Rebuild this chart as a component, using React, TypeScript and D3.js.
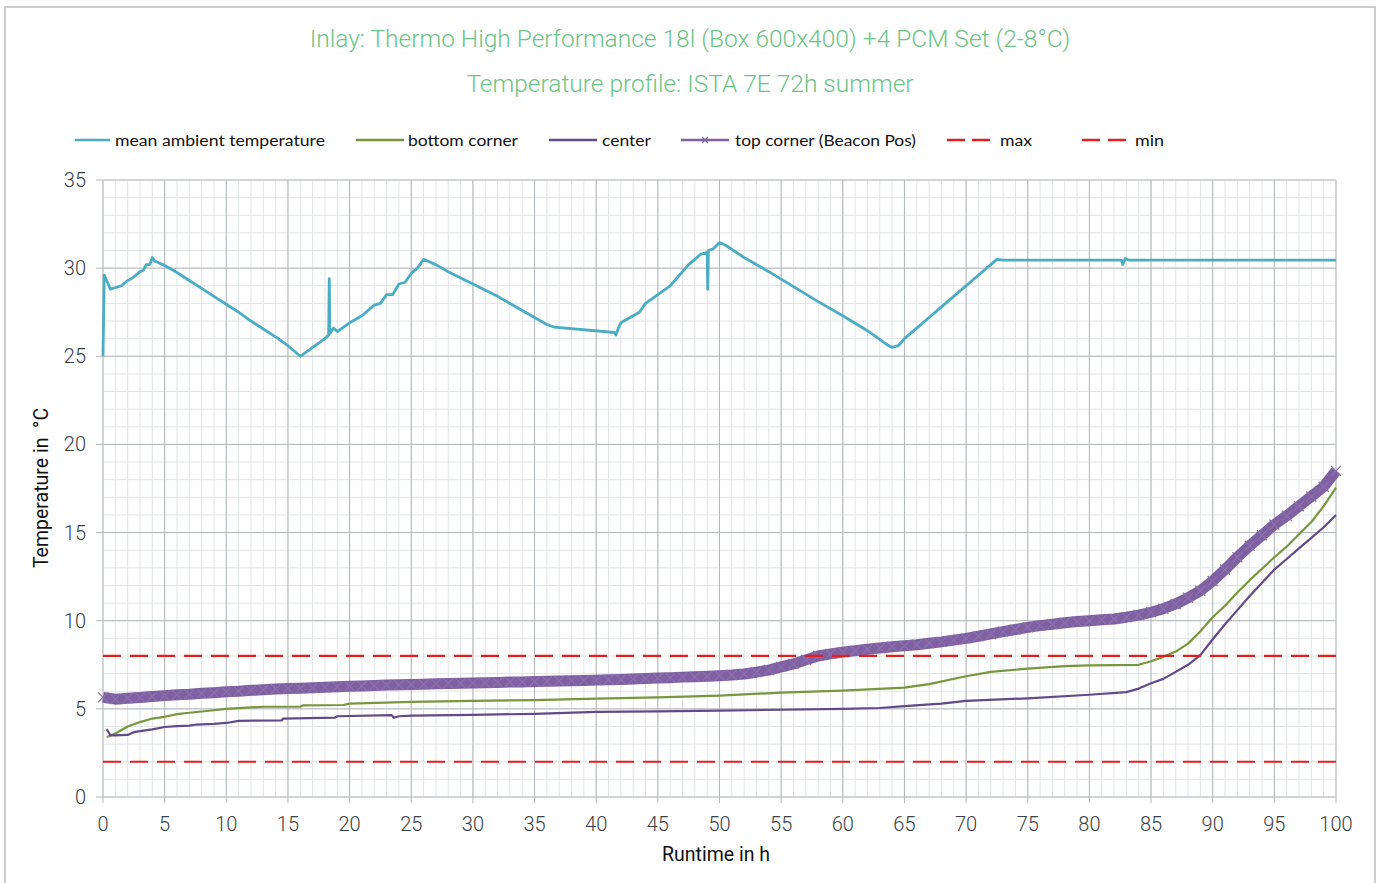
import React from "react";
import * as d3 from "d3";

const W = 1384;
const H = 883;
const PLOT = { left: 103, right: 1336, top: 180, bottom: 797 };

const titleLines = [
  "Inlay: Thermo High Performance 18l (Box 600x400) +4 PCM Set (2-8°C)",
  "Temperature profile: ISTA 7E 72h summer",
];
const xTicks = [0, 5, 10, 15, 20, 25, 30, 35, 40, 45, 50, 55, 60, 65, 70, 75, 80, 85, 90, 95, 100];
const yTicks = [0, 5, 10, 15, 20, 25, 30, 35];
const maxLimit = 8;
const minLimit = 2;

// mean ambient temperature
const ambientHours = [
  0, 0.1, 0.3, 0.6, 1, 1.5, 2, 2.3, 2.5, 3, 3.3, 3.5, 3.8, 4.0, 4.2, 5, 6, 7, 8, 9, 10, 11, 12, 13, 14, 15, 16,
  17, 18, 18.3, 18.35, 18.4, 18.7, 19, 20, 21, 22, 22.5, 23, 23.5, 24, 24.5, 25, 25.5, 26, 27, 28, 30, 32, 34,
  35, 36, 36.6, 41.5, 41.6, 41.8, 42, 43, 43.5, 44, 45, 46, 46.5, 47, 47.5, 48, 48.5, 49, 49.05, 49.1, 49.5, 50,
  50.5, 52, 54, 56, 58, 60, 62, 63.5, 64, 64.5, 65, 66, 67, 68, 69, 70, 71, 72, 72.5, 73, 80, 82.6, 82.7, 82.9,
  83.2, 90, 100,
];
const ambientTemp = [
  25.0, 29.6, 29.3, 28.8, 28.9, 29.0, 29.3, 29.4, 29.5, 29.8, 29.9, 30.2, 30.2, 30.6, 30.4, 30.15, 29.75, 29.3,
  28.85, 28.4, 27.95, 27.5, 27.0, 26.55, 26.1, 25.6, 25.0, 25.5, 26.0, 26.2, 29.4, 26.3, 26.6, 26.4, 26.9, 27.3,
  27.9, 28.0, 28.5, 28.5, 29.1, 29.2, 29.7, 30.0, 30.5, 30.2, 29.8, 29.1, 28.4, 27.6, 27.2, 26.8, 26.65, 26.35,
  26.2, 26.6, 26.9, 27.3, 27.5, 28.0, 28.5, 29.0, 29.4, 29.8, 30.2, 30.5, 30.8, 30.9, 28.8, 31.0, 31.1, 31.45,
  31.3, 30.6, 29.8, 28.95, 28.1, 27.3, 26.45, 25.7, 25.5, 25.6, 26.0, 26.6, 27.2, 27.8, 28.4, 29.0, 29.6, 30.2,
  30.5, 30.45, 30.45, 30.45, 30.2, 30.55, 30.45, 30.45, 30.45,
];

// bottom corner
const bottomHours = [
  0.3, 1, 2, 3, 4, 5, 6, 7, 8, 9, 10, 12, 13, 16, 16.2, 19.5, 20, 25, 30, 35, 40, 45, 50, 55, 60, 65, 67, 70,
  72, 75, 78, 80, 84, 85, 86, 87, 88, 89, 90, 91, 92, 93, 94, 95, 96, 97, 98, 99, 100,
];
const bottomTemp = [
  3.4, 3.6, 4.0, 4.25, 4.45, 4.55, 4.7, 4.78, 4.85, 4.92, 5.0, 5.08, 5.12, 5.12, 5.2, 5.22, 5.3, 5.4, 5.45,
  5.5, 5.58, 5.65, 5.75, 5.92, 6.03, 6.2, 6.4, 6.85, 7.1, 7.28, 7.42, 7.47, 7.5, 7.7, 7.95, 8.25, 8.7, 9.4,
  10.2, 10.85, 11.6, 12.3, 12.95, 13.6, 14.2, 14.9, 15.6, 16.5, 17.55,
];

// center
const centerHours = [
  0.3, 0.6, 1, 2, 2.5, 3, 4, 5, 6, 7, 7.5, 9, 10, 11, 14.5, 14.6, 18.8, 19, 23.4, 23.6, 24, 25, 30, 35, 40,
  45, 50, 55, 60, 63, 65, 68, 70, 75, 80, 83, 84, 85, 86, 87, 88, 89, 90, 91, 92, 93, 94, 95, 96, 97, 98, 99,
  100,
];
const centerTemp = [
  3.85, 3.5, 3.5, 3.52, 3.68, 3.74, 3.84, 3.97, 4.02, 4.05, 4.1, 4.15, 4.2, 4.32, 4.34, 4.45, 4.5, 4.58, 4.65,
  4.5, 4.58, 4.62, 4.66, 4.72, 4.83, 4.86, 4.9, 4.95, 5.0, 5.05, 5.15, 5.3, 5.45, 5.6, 5.8, 5.95, 6.15, 6.45,
  6.7, 7.1, 7.5, 8.05, 8.95, 9.8, 10.6, 11.4, 12.15, 12.9, 13.5, 14.1, 14.7, 15.3, 16.0,
];

// top corner (Beacon Pos)
const topHours = d3.range(0, 101);
const topTemp = [
  5.65, 5.55, 5.6, 5.65, 5.7, 5.75, 5.8, 5.83, 5.88, 5.92, 5.97, 6.0, 6.05, 6.08, 6.12, 6.15, 6.17, 6.2, 6.22,
  6.25, 6.28, 6.3, 6.32, 6.35, 6.37, 6.38, 6.4, 6.42, 6.44, 6.45, 6.47, 6.48, 6.5, 6.52, 6.53, 6.55, 6.57, 6.58,
  6.6, 6.61, 6.63, 6.65, 6.67, 6.7, 6.72, 6.75, 6.77, 6.8, 6.82, 6.85, 6.88, 6.92, 6.98, 7.08, 7.2, 7.38, 7.55,
  7.78, 8.0, 8.12, 8.22, 8.3, 8.38, 8.45, 8.52, 8.58, 8.64, 8.72, 8.8, 8.9, 9.0, 9.12, 9.25, 9.38, 9.5, 9.62,
  9.72, 9.8, 9.88, 9.95, 10.0, 10.05, 10.1, 10.2, 10.32, 10.48, 10.68, 10.95, 11.3, 11.7, 12.25, 12.9, 13.6,
  14.25, 14.85, 15.45, 15.95, 16.5, 17.05, 17.6, 18.5,
];

const legendLabels = [
  "mean ambient temperature",
  "bottom corner",
  "center",
  "top corner (Beacon Pos)",
  "max",
  "min",
];

const COLORS = {
  ambient: "#4bacc6",
  bottom: "#77973d",
  center: "#604a8b",
  top: "#7f60a2",
  topMark: "#8c70ae",
  limit: "#e02020",
  title: "#6cc486",
  gridMajor: "#b3b8bc",
  gridMinor: "#e1e4e6",
  tickText: "#3a4046",
};

const x = d3.scaleLinear().domain([0, 100]).range([PLOT.left, PLOT.right]);
const y = d3.scaleLinear().domain([0, 35]).range([PLOT.bottom, PLOT.top]);

function linePath(hs: number[], vs: number[]) {
  const gen = d3
    .line<number>()
    .x((_, i) => x(hs[i]))
    .y((v) => y(v));
  return gen(vs) || "";
}

export default function App() {
  const minorX = d3.range(0, 101, 1);
  const minorY = d3.range(0, 36, 1);
  const labelFont = "Roboto, 'DejaVu Sans', sans-serif";
  const legendFont = "Lato, 'Open Sans', sans-serif";

  const legendItems = [
    { x1: 75, x2: 110, tx: 115, color: COLORS.ambient, dash: "", marker: false, w: 2.5 },
    { x1: 356, x2: 404, tx: 408, color: COLORS.bottom, dash: "", marker: false, w: 2.5 },
    { x1: 549, x2: 597, tx: 602, color: COLORS.center, dash: "", marker: false, w: 2.5 },
    { x1: 681, x2: 729, tx: 735, color: COLORS.top, dash: "", marker: true, w: 2.5 },
    { x1: 947, x2: 990, tx: 1000, color: COLORS.limit, dash: "18,7", marker: false, w: 2.5 },
    { x1: 1082, x2: 1126, tx: 1135, color: COLORS.limit, dash: "18,8", marker: false, w: 2.5 },
  ];
  const legendWidths = [210, 110, 49, 181, 32, 29];

  return (
    <svg
      width={W}
      height={H}
      style={{ position: "absolute", left: 0, top: 0, background: "#ffffff" }}
      xmlns="http://www.w3.org/2000/svg"
    >
      <rect x={0} y={0} width={W} height={H} fill="#ffffff" />
      <rect x={5} y={7} width={1370} height={H + 20} fill="none" stroke="#bdbdbd" strokeWidth={1.5} />

      {/* titles */}
      {titleLines.map((t, i) => (
        <text
          key={t}
          x={690}
          y={47 + i * 45}
          textAnchor="middle"
          fontFamily={labelFont}
          fontWeight={300}
          fontSize={24.5}
          fill={COLORS.title}
        >
          {t}
        </text>
      ))}

      {/* legend */}
      {legendItems.map((it, i) => (
        <g key={i}>
          <line
            x1={it.x1}
            x2={it.x2}
            y1={140}
            y2={140}
            stroke={it.color}
            strokeWidth={it.w}
            strokeDasharray={it.dash || undefined}
          />
          {it.marker && (
            <path
              d={`M${(it.x1 + it.x2) / 2 - 3},137 L${(it.x1 + it.x2) / 2 + 3},143 M${(it.x1 + it.x2) / 2 - 3},143 L${
                (it.x1 + it.x2) / 2 + 3
              },137`}
              stroke={it.color}
              strokeWidth={1.3}
            />
          )}
          <text
            x={it.tx}
            y={145.5}
            fontFamily={legendFont}
            fontSize={15.5}
            fill="#111"
            textLength={legendWidths[i]}
            lengthAdjust="spacingAndGlyphs"
          >
            {legendLabels[i]}
          </text>
        </g>
      ))}

      {/* grid minor */}
      {minorX.map((v) => (
        <line key={"mx" + v} x1={x(v)} x2={x(v)} y1={PLOT.top} y2={PLOT.bottom} stroke={COLORS.gridMinor} strokeWidth={1} />
      ))}
      {minorY.map((v) => (
        <line key={"my" + v} x1={PLOT.left} x2={PLOT.right} y1={y(v)} y2={y(v)} stroke={COLORS.gridMinor} strokeWidth={1} />
      ))}
      {/* grid major */}
      {xTicks.map((v) => (
        <line key={"Mx" + v} x1={x(v)} x2={x(v)} y1={PLOT.top} y2={PLOT.bottom} stroke={COLORS.gridMajor} strokeWidth={1} />
      ))}
      {yTicks.map((v) => (
        <line key={"My" + v} x1={PLOT.left} x2={PLOT.right} y1={y(v)} y2={y(v)} stroke={COLORS.gridMajor} strokeWidth={1} />
      ))}

      {/* axes ticks */}
      {yTicks.map((v) => (
        <g key={"yt" + v}>
          <line x1={PLOT.left - 7} x2={PLOT.left} y1={y(v)} y2={y(v)} stroke={COLORS.gridMajor} strokeWidth={1} />
          <text
            x={86}
            y={y(v) + 7}
            textAnchor="end"
            fontFamily={labelFont}
            fontWeight={300}
            fontSize={20}
            fill={COLORS.tickText}
          >
            {v}
          </text>
        </g>
      ))}
      {xTicks.map((v) => (
        <g key={"xt" + v}>
          <line x1={x(v)} x2={x(v)} y1={PLOT.bottom} y2={PLOT.bottom + 6} stroke={COLORS.gridMajor} strokeWidth={1} />
          <text
            x={x(v)}
            y={831}
            textAnchor="middle"
            fontFamily={labelFont}
            fontWeight={300}
            fontSize={20}
            fill={COLORS.tickText}
          >
            {v}
          </text>
        </g>
      ))}

      {/* axis titles */}
      <text x={716} y={861} textAnchor="middle" fontFamily={labelFont} fontSize={19.5} fill="#111">
        Runtime in h
      </text>
      <text
        transform={`translate(48,488) rotate(-90)`}
        textAnchor="middle"
        fontFamily={labelFont}
        fontSize={19.5}
        fill="#111"
        xmlSpace="preserve"
      >
        {"Temperature in  °C"}
      </text>

      {/* series */}
      <path d={linePath(ambientHours, ambientTemp)} fill="none" stroke={COLORS.ambient} strokeWidth={2.8} strokeLinejoin="round" />
      <path d={linePath(bottomHours, bottomTemp)} fill="none" stroke={COLORS.bottom} strokeWidth={2.2} strokeLinejoin="round" />
      <path d={linePath(centerHours, centerTemp)} fill="none" stroke={COLORS.center} strokeWidth={2.2} strokeLinejoin="round" />
      <path d={linePath(topHours, topTemp)} fill="none" stroke={COLORS.top} strokeWidth={11} strokeLinejoin="round" />
      {topHours.map((h, i) => {
        const cx = x(h);
        const cy = y(topTemp[i]);
        const s = 5;
        return (
          <path
            key={"tm" + i}
            d={`M${cx - s},${cy - s} L${cx + s},${cy + s} M${cx - s},${cy + s} L${cx + s},${cy - s}`}
            stroke={COLORS.topMark}
            strokeWidth={1.3}
          />
        );
      })}

      {/* limits */}
      <line x1={PLOT.left} x2={PLOT.right} y1={y(maxLimit)} y2={y(maxLimit)} stroke={COLORS.limit} strokeWidth={2.2} strokeDasharray="18,9" />
      <line x1={PLOT.left} x2={PLOT.right} y1={y(minLimit)} y2={y(minLimit)} stroke={COLORS.limit} strokeWidth={2.2} strokeDasharray="18,9" />
    </svg>
  );
}
